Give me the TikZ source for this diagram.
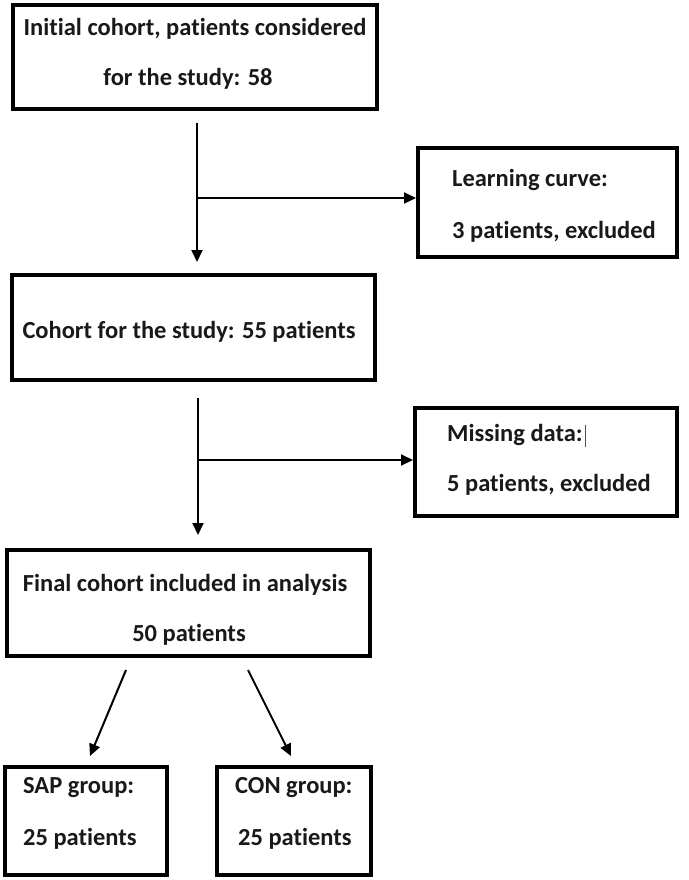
\documentclass[tikz,border=0pt]{standalone}
\usepackage{fontspec}
\setmainfont{Carlito}[RawFeature=-liga]
\usetikzlibrary{arrows.meta}
\begin{document}
\begin{tikzpicture}[x=1pt,y=-1pt,
  box/.style={draw=black,line width=4pt,fill=white,inner sep=0pt},
  txt/.style={font=\fontsize{24.5}{28}\selectfont\bfseries,inner sep=0pt,text=black!90},
  arr/.style={line width=2pt,-{Triangle[length=12pt,width=11pt]}}]
\useasboundingbox (0,0) rectangle (688,880);
% boxes
\node[box,minimum width=364pt,minimum height=104pt] (b1) at (195,57) {};
\node[box,minimum width=259pt,minimum height=109pt] (b2) at (547.5,202.5) {};
\node[box,minimum width=363pt,minimum height=105pt] (b3) at (193.5,327.5) {};
\node[box,minimum width=262pt,minimum height=108pt] (b4) at (546,462) {};
\node[box,minimum width=363pt,minimum height=106pt] (b5) at (188.5,603) {};
\node[box,minimum width=162pt,minimum height=108pt] (b6) at (86,821) {};
\node[box,minimum width=154pt,minimum height=108pt] (b7) at (294,821) {};
% texts
\node[txt,anchor=base] (t1a) at (195,36) {Initial cohort, patients considered};
\node[txt,anchor=base] (t1b) at (188,86) {for the study: 58};
\node[txt,anchor=base west] (t2a) at (452,186) {Learning curve:};
\node[txt,anchor=base west] (t2b) at (452,238) {3 patients, excluded};
\node[txt,anchor=base] (t3) at (189,338) {Cohort for the study: 55 patients};
\node[txt,anchor=base west] (t4a) at (447,441) {Missing data:};
\draw[line width=0.5pt,black!70] ([xshift=2pt,yshift=-1pt]t4a.north east) -- ++(0,22) coordinate (cursor);
\node[txt,anchor=base west] (t4b) at (447,491) {5 patients, excluded};
\node[txt,anchor=base] (t5a) at (185,591) {Final cohort included in analysis};
\node[txt,anchor=base] (t5b) at (189,641) {50 patients};
\node[txt,anchor=base west] (t6a) at (23,793) {SAP group:};
\node[txt,anchor=base west] (t6b) at (23,845) {25 patients};
\node[txt,anchor=base west] (t7a) at (235,793) {CON group:};
\node[txt,anchor=base west] (t7b) at (238,845) {25 patients};
% connectors
\coordinate (a1s) at (197,123);
\coordinate (a1e) at (197,262);
\coordinate (j1) at (197,198);
\draw[arr] (a1s) -- (a1e);
\draw[arr] (j1) -- (j1 -| b2.west);
\coordinate (a2s) at (198,398);
\coordinate (a2e) at (198,535);
\coordinate (j2) at (198,460);
\draw[arr] (a2s) -- (a2e);
\draw[arr] (j2) -- (j2 -| b4.west);
\coordinate (d1s) at (126,670);
\coordinate (d1e) at (90,756);
\coordinate (d2s) at (248,670);
\coordinate (d2e) at (291,756);
\draw[arr] (d1s) -- (d1e);
\draw[arr] (d2s) -- (d2e);
\end{tikzpicture}
\end{document}
